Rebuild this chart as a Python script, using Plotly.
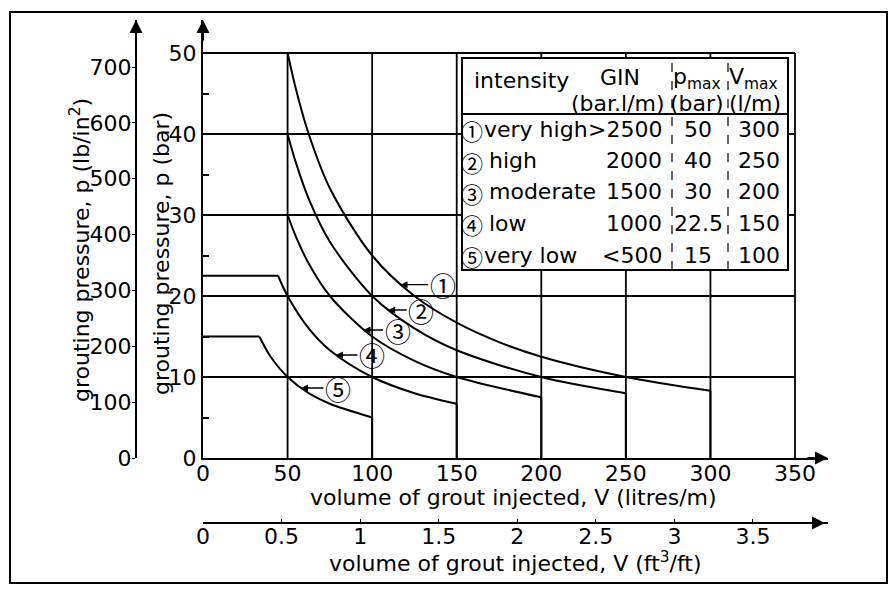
import plotly.graph_objects as go

W, H = 892, 595

# ---------------- data ----------------
# table
circ = ["①", "②", "③", "④", "⑤"]
intensity = ["very high", "high", "moderate", "low", "very low"]
gin_label = [">2500", "2000", "1500", "1000", "<500"]
pmax_label = ["50", "40", "30", "22.5", "15"]
vmax_label = ["300", "250", "200", "150", "100"]

# curves: V (litres/m), p (bar)
V1 = [0, 50, 55, 62.5, 75, 100, 125, 150, 175, 200, 250, 300, 300]
P1 = [50, 50, 45.5, 40, 33.3, 25, 20, 16.7, 14.3, 12.5, 10, 8.3, 0]
V2 = [0, 50, 55, 62.5, 75, 100, 125, 150, 200, 250, 250]
P2 = [40, 40, 36.4, 32, 26.7, 20, 16, 13.3, 10, 8, 0]
V3 = [0, 50, 55, 62.5, 75, 100, 125, 150, 200, 200]
P3 = [30, 30, 27.3, 24, 20, 15, 12, 10, 7.5, 0]
V4 = [0, 44.4, 50, 62.5, 75, 100, 125, 150, 150]
P4 = [22.5, 22.5, 20, 16, 13.3, 10, 8, 6.7, 0]
V5 = [0, 33.3, 40, 50, 62.5, 75, 100, 100]
P5 = [15, 15, 12.5, 10, 8, 6.7, 5, 0]

x_ticks = [0, 50, 100, 150, 200, 250, 300, 350]
y_ticks = [0, 10, 20, 30, 40, 50]

# ---------------- layout helpers ----------------
FONT = "DejaVu Sans, Noto Sans CJK JP, sans-serif"
CFONT = "Noto Sans CJK JP, DejaVu Sans, sans-serif"
FS = 22
X0, X1 = 203, 828          # px of V=0 and arrow tip
Y0, Y1 = 458, 20           # px of p=0 and arrow tip
PXV = (795 - 203) / 350.0  # px per litre/m
PXP = (458 - 53) / 50.0    # px per bar
XR = (X1 - X0) / PXV
YR = (Y0 - Y1) / PXP
L_PER_FT = 92.903          # litres/m per ft3/ft
PSI_PER_BAR = 14.5038


def px(x):
    return x / W


def py(y):
    return 1 - y / H


fig = go.Figure()

curves = [(V1, P1), (V2, P2), (V3, P3), (V4, P4), (V5, P5)]
for V, P in curves:
    fig.add_trace(go.Scatter(x=V[:2], y=P[:2], mode="lines",
                             line=dict(color="black", width=2),
                             hoverinfo="skip", showlegend=False))
    fig.add_trace(go.Scatter(x=V[1:-1], y=P[1:-1], mode="lines",
                             line=dict(color="black", width=2, shape="spline", smoothing=0.9),
                             hoverinfo="skip", showlegend=False))
    fig.add_trace(go.Scatter(x=V[-2:], y=P[-2:], mode="lines",
                             line=dict(color="black", width=2),
                             hoverinfo="skip", showlegend=False))

# dummy trace for secondary axes
fig.add_trace(go.Scatter(x=[0], y=[0], xaxis="x2", yaxis="y2", mode="markers",
                         marker=dict(opacity=0), hoverinfo="skip", showlegend=False))

shapes = []
for xv in x_ticks[1:]:
    shapes.append(dict(type="line", xref="x", yref="y", x0=xv, x1=xv, y0=0, y1=y_ticks[-1],
                       line=dict(color="black", width=1.8), layer="below"))
for yv in y_ticks[1:]:
    shapes.append(dict(type="line", xref="x", yref="y", x0=0, x1=x_ticks[-1], y0=yv, y1=yv,
                       line=dict(color="black", width=1.8), layer="below"))

# table
TL, TR, TT, TB = 462, 788, 58, 270
shapes.append(dict(type="rect", xref="paper", yref="paper", x0=px(TL), x1=px(TR), y0=py(TB), y1=py(TT),
                   fillcolor="white", line=dict(color="black", width=2), layer="above"))
shapes.append(dict(type="line", xref="paper", yref="paper", x0=px(TL), x1=px(TR), y0=py(114), y1=py(114),
                   line=dict(color="black", width=1.8), layer="above"))
for cx in (672, 728):
    shapes.append(dict(type="line", xref="paper", yref="paper", x0=px(cx), x1=px(cx), y0=py(TB), y1=py(TT),
                       line=dict(color="black", width=1.2, dash="dash"), layer="above"))

# outer frame
shapes.append(dict(type="rect", xref="paper", yref="paper", x0=px(10), x1=px(887), y0=py(583), y1=py(12),
                   line=dict(color="black", width=2), layer="above"))

ann = []


def txt(x, y, s, xa="center", size=FS, angle=0, ya="middle", fam=FONT):
    ann.append(dict(x=px(x), y=py(y), xref="paper", yref="paper", text=s, showarrow=False,
                    xanchor=xa, yanchor=ya, textangle=angle,
                    font=dict(family=fam, size=size, color="black")))


# header
txt(472, 81, "intensity", xa="left")
txt(620, 78, "GIN")
txt(618, 103, "(bar.l/m)")
txt(697, 79, "p<sub>max</sub>")
txt(697, 103, "(bar)")
txt(753, 79, "V<sub>max</sub>")
txt(755, 103, "(l/m)")

rows_y = [129, 161, 192, 223, 255]
label_x = [482, 487, 487, 487, 482]
for i in range(5):
    y = rows_y[i]
    txt(472, y + 1, circ[i], size=22, fam=CFONT)
    txt(label_x[i], y, intensity[i], xa="left")
    txt(664, y, gin_label[i], xa="right")
    txt(698, y, pmax_label[i])
    txt(782, y, vmax_label[i], xa="right")

# axis titles
txt(161, 254, "grouting pressure, p (bar)", angle=-90)
txt(80, 250, "grouting pressure, p (lb/in<sup>2</sup>)", angle=-90)
txt(513, 497, "volume of grout injected, V (litres/m)")
txt(515, 562, "volume of grout injected, V (ft<sup>3</sup>/ft)")

# curve labels with arrows (tip on curve in data coords, offset in px)
lab_tip_V = [116.8, 109.5, 94.9, 78.6, 57.9]
lab_tip_P = [21.4, 18.27, 15.8, 12.72, 8.64]
lab_dx = [42, 33, 34, 36, 37]
for i in range(5):
    ann.append(dict(x=lab_tip_V[i], y=lab_tip_P[i], xref="x", yref="y", text=circ[i],
                    showarrow=True, ax=lab_dx[i], ay=0, arrowhead=2, arrowsize=1, arrowwidth=1.4,
                    arrowcolor="black", standoff=0,
                    font=dict(family=CFONT, size=26, color="black")))

# axis arrowheads
for (hx, hy, tx, ty) in [(X0, Y1, 0, 22), (136, Y1, 0, 22), (X1, Y0, -22, 0), (825, 523, -22, 0)]:
    ann.append(dict(x=px(hx), y=py(hy), xref="paper", yref="paper", text="", showarrow=True,
                    ax=tx, ay=ty, arrowhead=2, arrowsize=1.3, arrowwidth=2, arrowcolor="black"))

axis_common = dict(showgrid=False, zeroline=False, showline=True, linecolor="black", linewidth=2,
                   tickfont=dict(family=FONT, size=FS, color="black"), automargin=False,
                   fixedrange=True, tickmode="linear", tick0=0)

fig.update_layout(
    width=W, height=H, autosize=False,
    margin=dict(l=0, r=0, t=0, b=0, pad=0),
    paper_bgcolor="white", plot_bgcolor="white",
    template="none",
    showlegend=False,
    xaxis=dict(domain=[px(X0), px(X1)], range=[0, XR], dtick=50, anchor="y", ticks="",
               ticklabelstandoff=-5, **axis_common),
    yaxis=dict(domain=[py(Y0), py(Y1)], range=[0, YR], dtick=10, anchor="x", ticks="",
               minor=dict(tickmode="linear", tick0=5, dtick=10, ticks="inside", ticklen=6,
                          tickwidth=1.5, tickcolor="black", showgrid=False),
               **axis_common),
    xaxis2=dict(overlaying="x", anchor="free", position=py(523), side="bottom",
                range=[0, XR / L_PER_FT], dtick=0.5, ticks="inside", ticklen=3, tickcolor="black",
                ticklabelstandoff=-6, **axis_common),
    yaxis2=dict(overlaying="y", anchor="free", position=px(136), side="left",
                range=[0, YR * PSI_PER_BAR], dtick=100, ticks="outside", ticklen=3, tickcolor="black",
                ticklabelstandoff=-4, **axis_common),
    shapes=shapes,
    annotations=ann,
)

fig.write_html("out.html", config={"displayModeBar": False},
               post_script="document.body.style.margin='0';document.body.style.overflow='hidden';")
